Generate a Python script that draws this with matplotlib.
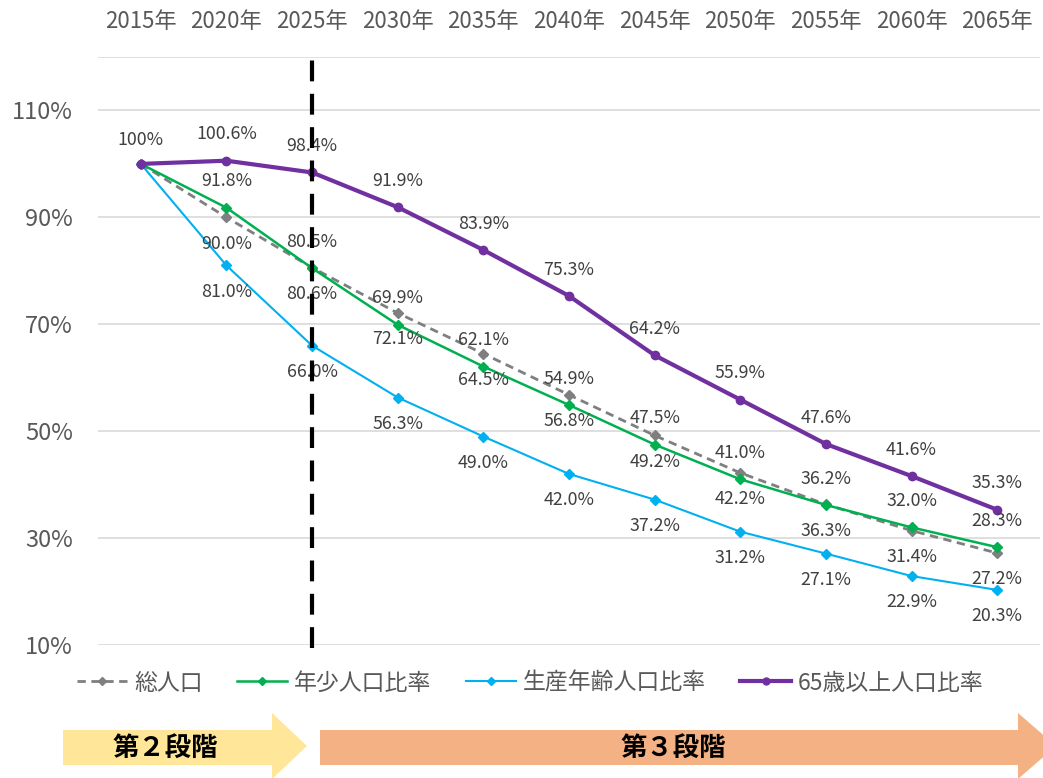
import matplotlib
matplotlib.use("Agg")
import matplotlib.pyplot as plt
from matplotlib.patches import Polygon
from matplotlib.lines import Line2D

plt.rcParams['font.family'] = ['Noto Sans CJK JP', 'DejaVu Sans']

years = [2015, 2020, 2025, 2030, 2035, 2040, 2045, 2050, 2055, 2060, 2065]
year_labels = [f"{y}年" for y in years]

total = [100, 90.0, 80.6, 72.1, 64.5, 56.8, 49.2, 42.2, 36.3, 31.4, 27.2]
young = [100, 91.8, 80.5, 69.9, 62.1, 54.9, 47.5, 41.0, 36.2, 32.0, 28.3]
working = [100, 81.0, 66.0, 56.3, 49.0, 42.0, 37.2, 31.2, 27.1, 22.9, 20.3]
elderly = [100, 100.6, 98.4, 91.9, 83.9, 75.3, 64.2, 55.9, 47.6, 41.6, 35.3]

y_ticks = [10, 30, 50, 70, 90, 110]

series = [
    ("総人口", total, "#7f7f7f", "D", "--", 2.0, 5.5, -1),
    ("年少人口比率", young, "#00b050", "D", "-", 1.8, 5.5, 1),
    ("生産年齢人口比率", working, "#00b0f0", "D", "-", 1.5, 5.5, -1),
    ("65歳以上人口比率", elderly, "#7030a0", "o", "-", 3.0, 6, 1),
]

fig = plt.figure(figsize=(10.43, 7.78), dpi=100)
ax = fig.add_axes([98 / 1043, 1 - 645 / 778, (1040 - 98) / 1043, (645 - 57) / 778])

x = list(range(len(years)))
for name, vals, color, marker, ls, lw, ms, side in series:
    ax.plot(x, vals, color=color, linestyle=ls, linewidth=lw, marker=marker,
            markersize=ms, zorder=3, dashes=(3, 2) if ls == "--" else (None, None))
    for i, v in enumerate(vals):
        if i == 0:
            continue
        ax.annotate(f"{v:.1f}%", (i, v), xytext=(0, 19 * side), textcoords="offset points",
                    ha="center", va="center", fontsize=12.8, color="#404040", zorder=4)
ax.annotate("100%", (0, 100), xytext=(0, 17), textcoords="offset points",
            ha="center", va="center", fontsize=12.8, color="#404040")

ax.set_xlim(-0.5, len(years) - 0.5)
ax.set_ylim(10, 120)
ax.set_yticks(y_ticks)
ax.set_yticklabels([f"{t}%" for t in y_ticks])
for g in y_ticks + [120]:
    ax.axhline(g, color="#d9d9d9", linewidth=1.2, zorder=1)
ax.xaxis.tick_top()
ax.set_xticks(x)
ax.set_xticklabels(year_labels)
ax.tick_params(axis="x", length=0, pad=17, labelsize=16, labelcolor="#595959")
ax.tick_params(axis="y", length=0, pad=18, labelsize=17, labelcolor="#595959")
for s in ax.spines.values():
    s.set_visible(False)

# boundary between stage 2 and stage 3
ax.plot([2, 2], [9.5, 121.2], color="black", linewidth=3, dashes=(5, 3),
        clip_on=False, zorder=5)

handles = [Line2D([], [], color=c, linestyle=ls, linewidth=lw, marker=m, markersize=ms - 1,
                  dashes=(3, 2) if ls == "--" else (None, None))
           for _, _, c, m, ls, lw, ms, _ in series]
fig.legend(handles, [s[0] for s in series], loc="center", ncol=4,
           bbox_to_anchor=(530 / 1043, 1 - 683 / 778), frameon=False,
           fontsize=16.5, labelcolor="#595959", handlelength=2.2,
           handletextpad=0.3, columnspacing=1.5)


def arrow(x0, x1, tip, color):
    pts = [(x0, 730), (x1, 730), (x1, 713), (tip, 746), (x1, 779), (x1, 765), (x0, 765)]
    pts = [(px / 1043, 1 - py / 778) for px, py in pts]
    fig.patches.append(Polygon(pts, closed=True, facecolor=color, edgecolor="none",
                               transform=fig.transFigure, zorder=0))


arrow(63, 272, 307, "#ffe699")
arrow(320, 1018, 1056, "#f4b183")
fig.text(165 / 1043, 1 - 748 / 778, "第２段階", ha="center", va="center",
         fontsize=19, fontweight="bold", color="black")
fig.text(673 / 1043, 1 - 748 / 778, "第３段階", ha="center", va="center",
         fontsize=19, fontweight="bold", color="black")

fig.savefig("out.png", dpi=100)
